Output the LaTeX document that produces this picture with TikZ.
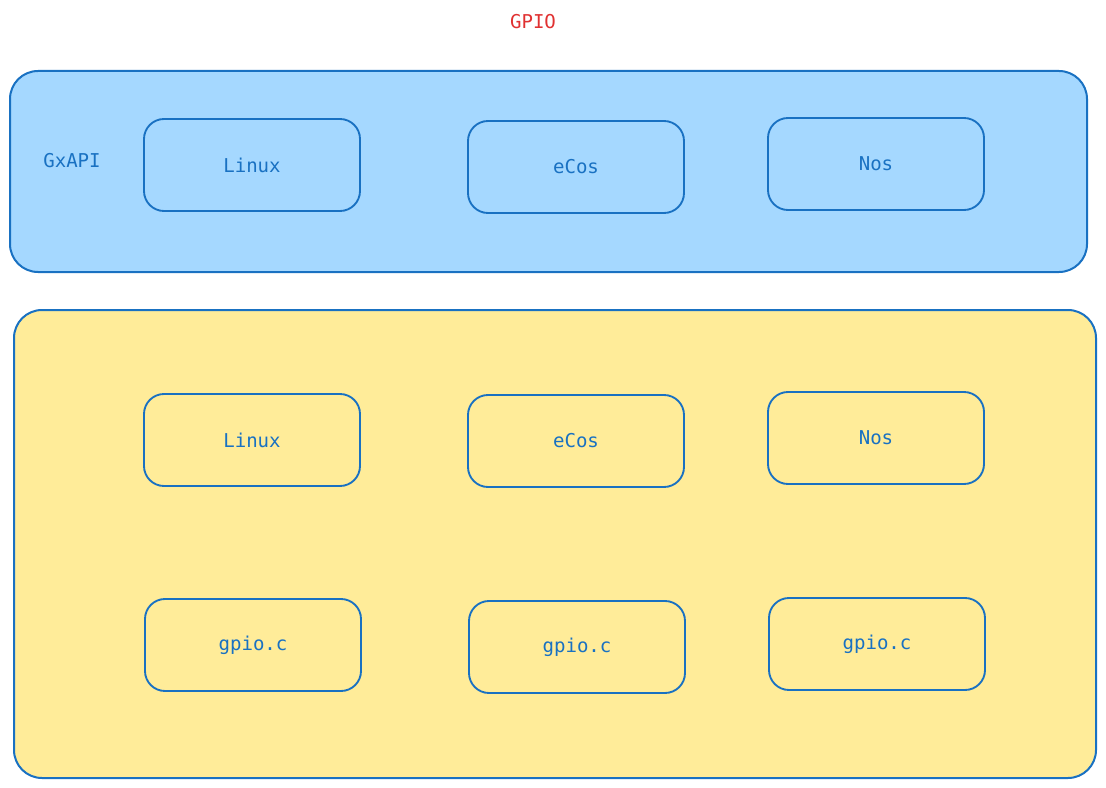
\documentclass[tikz,border=0pt]{standalone}
\usepackage{fontspec}
\setmonofont{DejaVu Sans Mono}
\definecolor{strokeblue}{HTML}{1971C2}
\definecolor{fillblue}{HTML}{A5D8FF}
\definecolor{fillyellow}{HTML}{FFEC99}
\definecolor{titlered}{HTML}{E03131}
\tikzset{
  panel/.style={draw=strokeblue, line width=1.5pt, rounded corners=21pt},
  osbox/.style={draw=strokeblue, line width=1.4pt, rounded corners=15pt,
    minimum width=162pt, minimum height=69pt, inner sep=0pt,
    text=strokeblue, font=\ttfamily\fontsize{14.3}{17}\selectfont},
  lbl/.style={text=strokeblue, font=\ttfamily\fontsize{14.3}{17}\selectfont}
}
\begin{document}
\begin{tikzpicture}[x=0.75pt, y=-0.75pt]
\useasboundingbox (0,0) rectangle (1106,788);
\node[text=titlered, font=\ttfamily\fontsize{14.3}{17}\selectfont] (title) at (533,22) {GPIO};
% GxAPI layer
\draw[panel, fill=fillblue] (10,71) rectangle (1087,272);
\node[lbl] (gxapi) at (72,161) {GxAPI};
\node[osbox] (apilinux) at (252,165) {Linux};
\node[osbox] (apiecos) at (576,167) {eCos};
\node[osbox] (apinos) at (876,164) {Nos};
% driver layer
\draw[panel, fill=fillyellow] (14,310) rectangle (1096,778);
\node[osbox] (drvlinux) at (252,440) {Linux};
\node[osbox] (drvecos) at (576,441) {eCos};
\node[osbox] (drvnos) at (876,438) {Nos};
\node[osbox] (gpiolinux) at (253,645) {gpio.c};
\node[osbox] (gpioecos) at (577,647) {gpio.c};
\node[osbox] (gpionos) at (877,644) {gpio.c};
\end{tikzpicture}
\end{document}
